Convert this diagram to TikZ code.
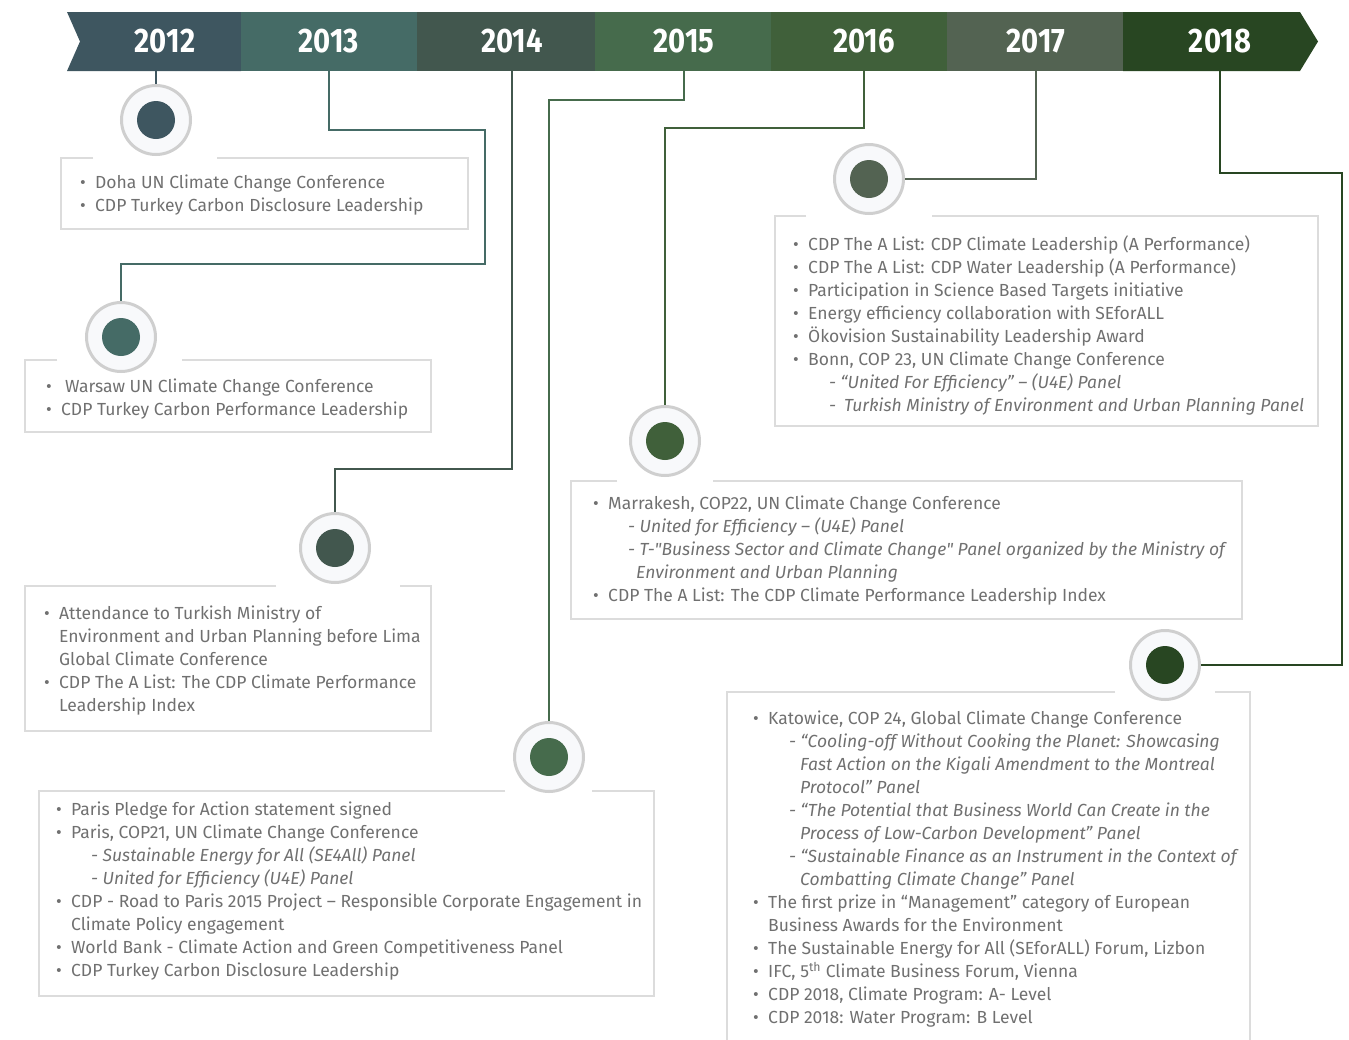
\documentclass[tikz,border=0pt]{standalone}
\usepackage{fontspec}
\usepackage{xcolor}
\usepackage{tikz}
\setmainfont{Fira Sans}[Ligatures=TeXOff]
\newfontfamily\yearfont[FakeStretch=0.86]{Fira Sans}
\definecolor{c12}{RGB}{62, 86, 96}
\definecolor{c13}{RGB}{69, 107, 102}
\definecolor{c14}{RGB}{66, 87, 78}
\definecolor{c15}{RGB}{70, 107, 76}
\definecolor{c16}{RGB}{64, 96, 58}
\definecolor{c17}{RGB}{83, 99, 82}
\definecolor{c18}{RGB}{40, 70, 34}
\definecolor{framegray}{RGB}{220, 220, 220}
\definecolor{ringgray}{RGB}{207, 207, 207}
\definecolor{ringfill}{RGB}{248, 249, 251}
\definecolor{textgray}{RGB}{112, 112, 112}
\newcommand{\bul}{\makebox[15pt][l]{\textbullet}}
\newcommand{\evsub}[2]{\hspace*{#1pt}\textit{#2}}

\begin{document}
\begin{tikzpicture}[x=1pt, y=-1pt,
    yr/.style={font=\yearfont\bfseries\fontsize{34}{34}\selectfont, text=white, inner sep=0pt},
    evdot/.style={circle, draw=ringgray, line width=3pt, fill=ringfill, minimum size=69pt, inner sep=0pt,
        path picture={\fill[#1] (path picture bounding box.center) circle (19pt);}},
    link/.style={draw=#1, line width=2.6pt},
    evframe/.style={draw=framegray, line width=2.5pt},
    evtext/.style={anchor=north west, inner sep=0pt, align=left, text=textgray, font=\fontsize{17.5}{23}\selectfont}]
    \useasboundingbox (0,0) rectangle (1349,1039);

    % Year band
    \fill[c12] (67,12) -- (241,12) -- (241,71) -- (67,71) -- (80,41.5) -- cycle;
    \fill[c13] (241,12) rectangle (417,71);
    \fill[c14] (417,12) rectangle (595,71);
    \fill[c15] (595,12) rectangle (771,71);
    \fill[c16] (771,12) rectangle (947,71);
    \fill[c17] (947,12) rectangle (1123,71);
    \fill[c18] (1123,12) -- (1300,12) -- (1318,41.5) -- (1300,71) -- (1123,71) -- cycle;
    \coordinate (barbot) at (0,71);

    \node[yr] (y2012) at (165,41.5) {2012};
    \node[yr] (y2013) at (329,41.5) {2013};
    \node[yr] (y2014) at (512,41.5) {2014};
    \node[yr] (y2015) at (684,41.5) {2015};
    \node[yr] (y2016) at (864,41.5) {2016};
    \node[yr] (y2017) at (1036,41.5) {2017};
    \node[yr] (y2018) at (1220,41.5) {2018};

    % Event boxes
    \draw[evframe] (93,158) -| (61,229) -| (468,158) -- (217,158);
    \draw[evframe] (57,360) -| (25,432) -| (431,360) -- (182,360);
    \draw[evframe] (276,586) -| (25,731) -| (431,586) -- (400,586);
    \draw[evframe] (505,791) -| (39,996) -| (654,791) -- (592,791);
    \draw[evframe] (617,481) -| (571,619) -| (1242,481) -- (713,481);
    \draw[evframe] (806,216) -| (775,426) -| (1318,216) -- (932,216);
    \draw[evframe] (1115,692) -| (727,1045);
    \draw[evframe] (1215,692) -| (1250,1045);

    % Milestones
    \node[evdot=c12] (c2012) at (156,120) {};
    \node[evdot=c13] (c2013) at (121,337) {};
    \node[evdot=c14] (c2014) at (335,548) {};
    \node[evdot=c15] (c2015) at (549,757) {};
    \node[evdot=c16] (c2016) at (665,441) {};
    \node[evdot=c17] (c2017) at (869,179) {};
    \node[evdot=c18] (c2018) at (1165,665) {};

    % Links
    \draw[link=c12] (c2012 |- barbot) -- (c2012);
    \draw[link=c13] (y2013 |- barbot) |- (485,130) |- (121,264) -- (c2013);
    \draw[link=c14] (y2014 |- barbot) |- (335,469) -- (c2014);
    \draw[link=c15] (y2015 |- barbot) |- (549,100) -- (c2015);
    \draw[link=c16] (y2016 |- barbot) |- (665,128) -- (c2016);
    \draw[link=c17] (y2017 |- barbot) |- (c2017);
    \draw[link=c18] (y2018 |- barbot) |- (1342,173) |- (c2018);

    % Texts
    \node[evtext] (t2012) at (80,175) {\bul Doha UN Climate Change Conference\\
        \bul CDP Turkey Carbon Disclosure Leadership};
    \node[evtext] (t2013) at (46,379) {\bul\hspace{4pt}Warsaw UN Climate Change Conference\\
        \bul CDP Turkey Carbon Performance Leadership};
    \node[evtext] (t2014) at (44,606) {\bul Attendance to Turkish Ministry of\\
        \hspace*{15pt}Environment and Urban Planning before Lima\\
        \hspace*{15pt}Global Climate Conference\\
        \bul CDP The A List: The CDP Climate Performance\\
        \hspace*{15pt}Leadership Index};
    \node[evtext] (t2015) at (56,802) {\bul Paris Pledge for Action statement signed\\
        \bul Paris, COP21, UN Climate Change Conference\\
        \evsub{35}{- Sustainable Energy for All (SE4All) Panel}\\
        \evsub{35}{- United for Efficiency (U4E) Panel}\\
        \bul CDP - Road to Paris 2015 Project – Responsible Corporate Engagement in\\
        \hspace*{15pt}Climate Policy engagement\\
        \bul World Bank - Climate Action and Green Competitiveness Panel\\
        \bul CDP Turkey Carbon Disclosure Leadership};
    \node[evtext] (t2016) at (593,496) {\bul Marrakesh, COP22, UN Climate Change Conference\\
        \evsub{35}{- United for Efficiency – (U4E) Panel}\\
        \evsub{35}{- T-"Business Sector and Climate Change" Panel organized by the Ministry of}\\
        \evsub{43}{Environment and Urban Planning}\\
        \bul CDP The A List: The CDP Climate Performance Leadership Index};
    \node[evtext] (t2017) at (793,236) {\bul CDP The A List: CDP Climate Leadership (A Performance)\\
        \bul CDP The A List: CDP Water Leadership (A Performance)\\
        \bul Participation in Science Based Targets initiative\\
        \bul Energy efficiency collaboration with SEforALL\\
        \bul Ökovision Sustainability Leadership Award\\
        \bul Bonn, COP 23, UN Climate Change Conference\\
        \evsub{36}{- “United For Efficiency” – (U4E) Panel}\\
        \evsub{36}{-\hspace{8pt}Turkish Ministry of Environment and Urban Planning Panel}};
    \node[evtext] (t2018) at (753,711) {\bul Katowice, COP 24, Global Climate Change Conference\\
        \evsub{36}{- “Cooling-off Without Cooking the Planet: Showcasing}\\
        \evsub{47}{Fast Action on the Kigali Amendment to the Montreal}\\
        \evsub{47}{Protocol” Panel}\\
        \evsub{36}{- “The Potential that Business World Can Create in the}\\
        \evsub{47}{Process of Low-Carbon Development” Panel}\\
        \evsub{36}{- “Sustainable Finance as an Instrument in the Context of}\\
        \evsub{47}{Combatting Climate Change” Panel}\\
        \bul The first prize in “Management” category of European\\
        \hspace*{15pt}Business Awards for the Environment\\
        \bul The Sustainable Energy for All (SEforALL) Forum, Lizbon\\
        \bul IFC, 5\textsuperscript{th} Climate Business Forum, Vienna\\
        \bul CDP 2018, Climate Program: A- Level\\
        \bul CDP 2018: Water Program: B Level};
\end{tikzpicture}
\end{document}
